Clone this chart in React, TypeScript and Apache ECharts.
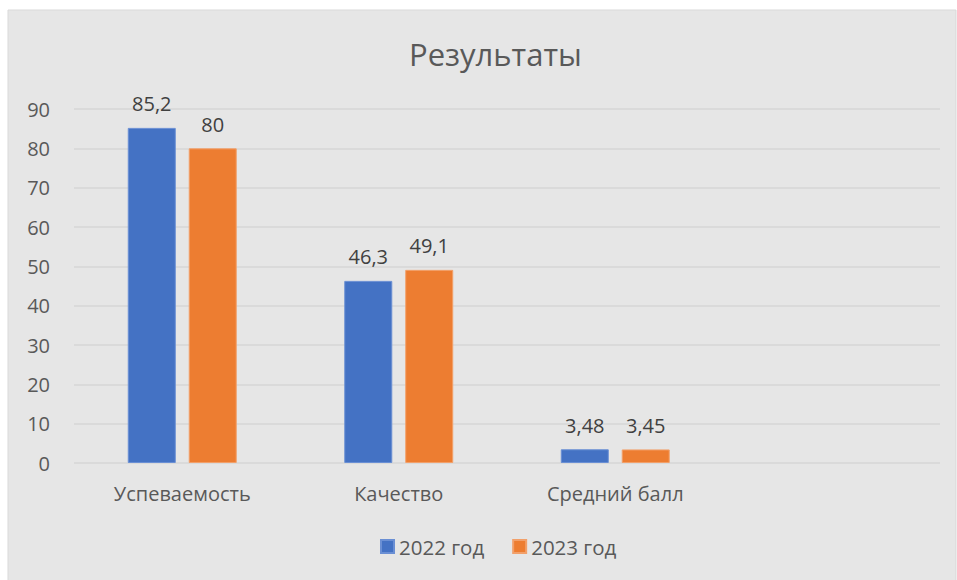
import React, { useEffect, useRef } from "react";
import * as echarts from "echarts";

const categories = ["Успеваемость", "Качество", "Средний балл", ""];
const series2022 = [85.2, 46.3, 3.48, null];
const series2023 = [80, 49.1, 3.45, null];
const seriesNames = ["2022 год", "2023 год"];
const yTicks = { min: 0, max: 90, interval: 10 };

const FONT = "Open Sans";
const TEXT = "#595959";

export default function App() {
  const ref = useRef<HTMLDivElement>(null);
  useEffect(() => {
    document.body.style.margin = "0";
    const chart = echarts.init(ref.current!, null, { renderer: "svg" });
    const fmt = (p: any) => String(p.value).replace(".", ",");
    chart.setOption({
      animation: false,
      backgroundColor: "#ffffff",
      textStyle: { fontFamily: FONT },
      graphic: [
        {
          type: "rect",
          z: -10,
          shape: { x: 8, y: 10, width: 948, height: 580 },
          style: { fill: "#e6e6e6", stroke: "#d9d9d9", lineWidth: 1 },
          silent: true,
        },
      ],
      title: {
        text: "Результаты",
        left: 404,
        top: 33,
        textStyle: { fontFamily: FONT, fontSize: 31, fontWeight: "normal", color: TEXT },
      },
      legend: {
        bottom: 18,
        left: 375,
        itemWidth: 13,
        itemHeight: 13,
        itemGap: 28,
        icon: "rect",
        textStyle: { fontFamily: FONT, fontSize: 20.5, color: TEXT },
        data: seriesNames,
      },
      grid: { left: 74, right: 17, top: 109, bottom: 117 },
      xAxis: {
        type: "category",
        data: categories,
        axisLine: { show: false },
        axisTick: { show: false },
        axisLabel: { fontFamily: FONT, fontSize: 20, color: TEXT, margin: 20 },
      },
      yAxis: {
        type: "value",
        min: yTicks.min,
        max: yTicks.max,
        interval: yTicks.interval,
        axisLine: { show: false },
        axisTick: { show: false },
        axisLabel: { fontFamily: FONT, fontSize: 20, color: TEXT, margin: 24 },
        splitLine: { lineStyle: { color: "#d6d6d6", width: 1.5 } },
      },
      series: [
        {
          name: seriesNames[0],
          type: "bar",
          data: series2022,
          barWidth: 48,
          barGap: "27%",
          itemStyle: { color: "#4472c4", borderColor: "#6a8fd4", borderWidth: 1 },
          label: { show: true, position: "top", distance: 14, formatter: fmt, fontFamily: FONT, fontSize: 20, color: "#404040" },
        },
        {
          name: seriesNames[1],
          type: "bar",
          data: series2023,
          barWidth: 48,
          barGap: "27%",
          itemStyle: { color: "#ed7d31", borderColor: "#f2a06a", borderWidth: 1 },
          label: { show: true, position: "top", distance: 14, formatter: fmt, fontFamily: FONT, fontSize: 20, color: "#404040" },
        },
      ],
    });
    return () => chart.dispose();
  }, []);
  return <div ref={ref} style={{ width: 957, height: 580 }} />;
}
